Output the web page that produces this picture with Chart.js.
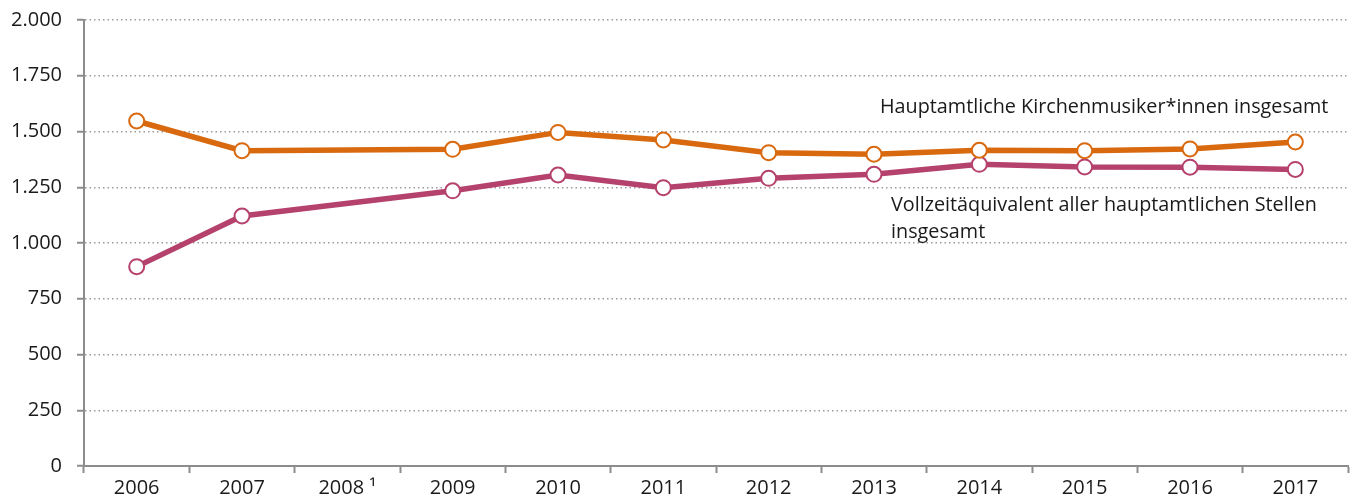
<!DOCTYPE html>
<html lang="de">
<head>
<meta charset="utf-8">
<title>Kirchenmusiker*innen 2006–2017</title>
<script src="https://cdn.jsdelivr.net/npm/chart.js@4/dist/chart.umd.min.js"></script>
<style>
  html, body { margin: 0; padding: 0; background: #fff; }
  #wrap { width: 1353px; height: 504px; }
</style>
</head>
<body>
<div id="wrap"><canvas id="chart" width="1353" height="504"></canvas></div>
<script>
// Daten
const years = ['2006', '2007', '2008 \u00B9', '2009', '2010', '2011', '2012', '2013', '2014', '2015', '2016', '2017'];
const musikerGesamt = [1547, 1414, null, 1420, 1496, 1462, 1405, 1398, 1416, 1414, 1422, 1453];
const vollzeitAequivalent = [894, 1121, null, 1234, 1305, 1248, 1290, 1308, 1353, 1341, 1340, 1330];
const yTicks = [0, 250, 500, 750, 1000, 1250, 1500, 1750, 2000];

const ORANGE = '#d9690f';
const PURPLE = '#b5426d';
const AXIS = '#8c8c8c';
const FONT = "'Open Sans', 'Noto Sans', sans-serif";

// 1.750 statt 1,750
function fmt(v) {
  return String(v).replace(/\B(?=(\d{3})+(?!\d))/g, '.');
}

// Beschriftungen direkt an den Linien
const lineLabels = {
  id: 'lineLabels',
  afterDatasetsDraw(chart) {
    const { ctx } = chart;
    ctx.save();
    ctx.font = '19.8px ' + FONT;
    ctx.fillStyle = '#1a1a1a';
    ctx.textBaseline = 'alphabetic';
    ctx.textAlign = 'left';
    ctx.fillText('Hauptamtliche Kirchenmusiker*innen insgesamt', 880, 113);
    ctx.fillText('Vollzeitäquivalent aller hauptamtlichen Stellen', 891, 211);
    ctx.fillText('insgesamt', 891, 238);
    ctx.restore();
  }
};

new Chart(document.getElementById('chart'), {
  type: 'line',
  data: {
    labels: years,
    datasets: [
      {
        label: 'Hauptamtliche Kirchenmusiker*innen insgesamt',
        data: musikerGesamt,
        borderColor: ORANGE,
        borderWidth: 5.5,
        pointBackgroundColor: '#fff',
        pointBorderColor: ORANGE,
        pointBorderWidth: 2,
        pointRadius: 7.5,
        spanGaps: true,
        tension: 0
      },
      {
        label: 'Vollzeitäquivalent aller hauptamtlichen Stellen insgesamt',
        data: vollzeitAequivalent,
        borderColor: PURPLE,
        borderWidth: 5.5,
        pointBackgroundColor: '#fff',
        pointBorderColor: PURPLE,
        pointBorderWidth: 2,
        pointRadius: 7.5,
        spanGaps: true,
        tension: 0
      }
    ]
  },
  options: {
    responsive: false,
    animation: false,
    layout: { autoPadding: false, padding: { top: 20, right: 5, bottom: 0, left: 0 } },
    plugins: {
      legend: { display: false },
      tooltip: { enabled: false }
    },
    scales: {
      x: {
        offset: true,
        grid: {
          offset: true,
          drawOnChartArea: false,
          drawTicks: true,
          tickLength: 7,
          tickColor: AXIS,
          tickWidth: 2
        },
        border: { color: AXIS, width: 2 },
        ticks: {
          color: '#1a1a1a',
          font: { family: FONT, size: 20 },
          padding: 3,
          maxRotation: 0
        },
        afterFit(scale) {
          scale.height = 38;
          scale.paddingLeft = 0;
          scale.paddingRight = 0;
        }
      },
      y: {
        min: 0,
        max: 2000,
        afterBuildTicks(scale) { scale.ticks = yTicks.map(v => ({ value: v })); },
        grid: {
          color: '#9a9a9a',
          lineWidth: 1.5,
          tickBorderDash: [],
          tickColor: AXIS,
          tickWidth: 2,
          tickLength: 7
        },
        border: { color: AXIS, width: 2, dash: [1.5, 3] },
        ticks: {
          color: '#1a1a1a',
          font: { family: FONT, size: 20 },
          padding: 15,
          callback: v => fmt(v)
        },
        afterFit(scale) {
          scale.width = 84;
          scale.paddingTop = 0;
          scale.paddingBottom = 0;
        }
      }
    }
  },
  plugins: [lineLabels]
});
</script>
</body>
</html>
